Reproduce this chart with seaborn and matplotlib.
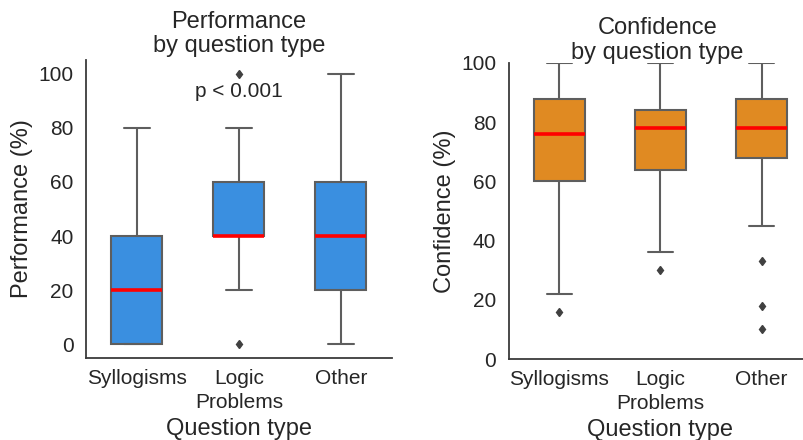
import matplotlib
matplotlib.use("Agg")
import matplotlib.pyplot as plt
import seaborn as sns
import pandas as pd

categories = ["Syllogisms", "Logic\nProblems", "Other"]

# Reconstructed samples reproducing the box statistics
perf_syllogisms = [0, 0, 0, 20, 20, 40, 40, 60, 80]
perf_logic = [0, 20, 40, 40, 40, 60, 60, 80, 100]
perf_other = [0, 20, 20, 40, 40, 40, 60, 80, 100]

conf_syllogisms = [16, 22, 60, 70, 76, 80, 88, 95, 100]
conf_logic = [30, 36, 64, 70, 78, 80, 84, 90, 100]
conf_other = [10, 18, 33, 45, 68, 70, 72, 75, 78, 80, 82, 85, 88, 90, 95, 98, 100]

yticks = [0, 20, 40, 60, 80, 100]


def long_df(series):
    rows = []
    for cat, vals in zip(categories, series):
        for v in vals:
            rows.append({"Question type": cat, "value": v})
    return pd.DataFrame(rows)


perf_df = long_df([perf_syllogisms, perf_logic, perf_other])
conf_df = long_df([conf_syllogisms, conf_logic, conf_other])

sns.set_style("white")
plt.rcParams["font.family"] = ["Liberation Sans", "DejaVu Sans"]
plt.rcParams["text.color"] = "#262626"
plt.rcParams["axes.labelcolor"] = "#262626"
plt.rcParams["xtick.color"] = "#262626"
plt.rcParams["ytick.color"] = "#262626"

fig = plt.figure(figsize=(8.04, 4.4), dpi=100)
W, H = 804, 440
ax1 = fig.add_axes([86 / W, 1 - 358 / H, 306 / W, 298 / H])
ax2 = fig.add_axes([508.7 / W, 1 - 359 / H, 303.5 / W, 296 / H])

common = dict(
    x="Question type", y="value", order=categories, width=0.5, saturation=1,
    linecolor="#5e5e5e", linewidth=1.5,
    medianprops=dict(color="red", linewidth=2.6),
    flierprops=dict(marker="d", markersize=4.5, markerfacecolor="#404040",
                    markeredgecolor="#404040"),
)

sns.boxplot(data=perf_df, color="#3a8fe0", ax=ax1, **common)
sns.boxplot(data=conf_df, color="#e08a22", ax=ax2, **common)

for ax in (ax1, ax2):
    sns.despine(ax=ax)
    for s in ("left", "bottom"):
        ax.spines[s].set_color("#3a3a3a")
        ax.spines[s].set_linewidth(1.3)
    ax.set_xlim(-0.5, 2.5)
    ax.set_yticks(yticks)
    ax.tick_params(axis="both", labelsize=15, length=0)
    ax.tick_params(axis="x", pad=8)
    ax.tick_params(axis="y", pad=9)
    for lab in ax.get_xticklabels():
        lab.set_linespacing(1.3)
    ax.set_xlabel("Question type", fontsize=17, labelpad=4.5)

ax1.set_ylim(-5, 105)
ax2.set_ylim(0, 100)

ax1.set_ylabel("Performance (%)", fontsize=17, labelpad=4)
ax2.set_ylabel("Confidence (%)", fontsize=17, labelpad=4)
ax1.set_title("Performance\nby question type", fontsize=17, pad=6, linespacing=1.1)
ax2.set_title("Confidence\nby question type", fontsize=17, pad=3, linespacing=1.15)
ax2.title.set_position((0.49, 1.0))

ax1.text(1.0, 90, "p < 0.001", fontsize=15, ha="center", va="bottom")

fig.savefig("out.png", dpi=100)
